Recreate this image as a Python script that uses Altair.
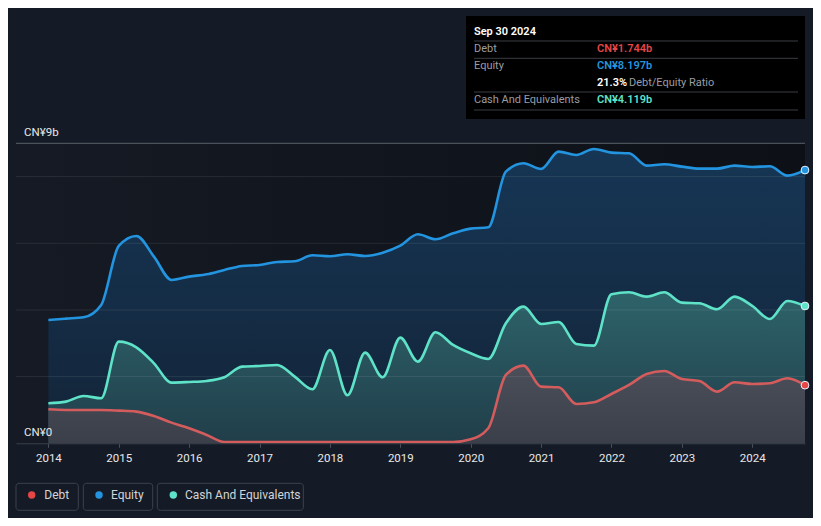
import altair as alt
import pandas as pd

# ---------------- data ----------------
years = [2014.0, 2014.25, 2014.5, 2014.75, 2015.0, 2015.25, 2015.5, 2015.75,
         2016.0, 2016.25, 2016.5, 2016.75, 2017.0, 2017.25, 2017.5, 2017.75,
         2018.0, 2018.25, 2018.5, 2018.75, 2019.0, 2019.25, 2019.5, 2019.75,
         2020.0, 2020.25, 2020.5, 2020.75, 2021.0, 2021.25, 2021.5, 2021.75,
         2022.0, 2022.25, 2022.5, 2022.75, 2023.0, 2023.25, 2023.5, 2023.75,
         2024.0, 2024.25, 2024.5, 2024.75]

equity = [3.70, 3.74, 3.78, 4.15, 5.92, 6.22, 5.60, 4.90,
          5.00, 5.07, 5.20, 5.32, 5.35, 5.44, 5.46, 5.64,
          5.61, 5.67, 5.62, 5.72, 5.93, 6.27, 6.12, 6.30,
          6.44, 6.48, 8.15, 8.40, 8.23, 8.75, 8.65, 8.83,
          8.72, 8.70, 8.33, 8.37, 8.30, 8.24, 8.24, 8.33,
          8.29, 8.31, 8.03, 8.197]

cash = [1.20, 1.25, 1.42, 1.35, 3.05, 2.88, 2.40, 1.82,
        1.84, 1.87, 1.98, 2.30, 2.32, 2.35, 2.00, 1.62,
        2.80, 1.44, 2.72, 1.98, 3.17, 2.45, 3.33, 2.95,
        2.70, 2.53, 3.60, 4.10, 3.58, 3.64, 2.98, 2.93,
        4.47, 4.53, 4.40, 4.53, 4.22, 4.20, 4.02, 4.40,
        4.12, 3.73, 4.27, 4.119]

debt = [1.02, 1.00, 1.00, 1.00, 0.98, 0.95, 0.82, 0.62,
        0.45, 0.25, 0.04, 0.04, 0.04, 0.04, 0.04, 0.04,
        0.04, 0.04, 0.04, 0.04, 0.04, 0.04, 0.04, 0.04,
        0.12, 0.45, 2.05, 2.33, 1.70, 1.68, 1.18, 1.23,
        1.48, 1.75, 2.08, 2.17, 1.93, 1.87, 1.55, 1.83,
        1.78, 1.80, 1.95, 1.744]

series_names = ["Debt", "Equity", "Cash And Equivalents"]
series_colors = ["#e64646", "#2394df", "#5fe3c8"]
line_colors = ["#d45c5d", "#2394df", "#5fe3c8"]
tick_years = [2014, 2015, 2016, 2017, 2018, 2019, 2020, 2021, 2022, 2023, 2024]
grid_values = [2, 4, 6, 8]
y_label_values = [0, 9]
y_label_texts = ["CN¥0", "CN¥9b"]
as_of = "Sep 30 2024"

# ---------------- build ----------------
W, H = 789, 300
FONT = "Roboto"
PAGE_BG = "#151b26"

df = pd.DataFrame({
    "year": years * 3,
    "value": debt + equity + cash,
    "series": ["Debt"] * len(years) + ["Equity"] * len(years) + ["Cash And Equivalents"] * len(years),
})
last = df[df["year"] == years[-1]]

xscale = alt.Scale(domain=[2013.54, 2024.75], nice=False, zero=False)
yscale = alt.Scale(domain=[0, 9], nice=False, zero=True)

xenc = alt.X("year:Q", scale=xscale, title=None,
             axis=alt.Axis(values=tick_years, format="d", grid=False,
                           domainColor="#3b414b", tickColor="#4a505a", tickSize=4,
                           labelColor="#e8e8e8", labelFontSize=11.5, labelFont=FONT,
                           labelPadding=5, labelFlush=False, zindex=1))
yenc = alt.Y("value:Q", scale=yscale, title=None, axis=None)

one = pd.DataFrame({"k": [0]})

def grad(top, bottom, horizontal=False):
    if horizontal:
        return alt.Gradient(gradient="linear", x1=0, y1=0, x2=1, y2=0,
                            stops=[alt.GradientStop(color=top, offset=0),
                                   alt.GradientStop(color=bottom, offset=1)])
    return alt.Gradient(gradient="linear", x1=0, y1=0, x2=0, y2=1,
                        stops=[alt.GradientStop(color=top, offset=0),
                               alt.GradientStop(color=bottom, offset=1)])

bg = alt.Chart(one).mark_rect(color=grad("#151a24", "#0d1016", horizontal=True)).encode(
    x=alt.value(0), x2=alt.value(W), y=alt.value(0), y2=alt.value(H))

base = alt.Chart(df)

area_eq = base.transform_filter(alt.datum.series == "Equity").mark_area(
    interpolate="monotone", color=grad("#163655", "#132438")).encode(x=xenc, y=yenc)
area_cash = base.transform_filter(alt.datum.series == "Cash And Equivalents").mark_area(
    interpolate="monotone", color=grad("#2e636a", "#203e4a")).encode(x=xenc, y=yenc)
area_debt = base.transform_filter(alt.datum.series == "Debt").mark_area(
    interpolate="monotone", color=grad("#4c4f59", "#3a3f4a")).encode(x=xenc, y=yenc)

grid = alt.Chart(pd.DataFrame({"g": grid_values})).mark_rule(
    color="#ffffff", opacity=0.09, strokeWidth=1).encode(
    y=alt.Y("g:Q", scale=yscale, axis=None), x=alt.value(0), x2=alt.value(W))
top_rule = alt.Chart(pd.DataFrame({"g": [9]})).mark_rule(
    color="#5a5f68", strokeWidth=1).encode(
    y=alt.Y("g:Q", scale=yscale, axis=None), x=alt.value(0), x2=alt.value(W))

ylabels = alt.Chart(pd.DataFrame({"v": y_label_values, "t": y_label_texts})).mark_text(
    align="left", baseline="alphabetic", dy=-7, font=FONT, fontSize=11.5, color="#e8e8e8").encode(
    y=alt.Y("v:Q", scale=yscale, axis=None), x=alt.value(8), text="t:N")

color_scale = alt.Scale(domain=series_names, range=line_colors)
lines = base.mark_line(interpolate="monotone", strokeWidth=2.6).encode(
    x=xenc, y=yenc, color=alt.Color("series:N", scale=color_scale, legend=None),
    detail="series:N")

pts = alt.Chart(last).mark_point(filled=True, size=60, stroke="#e8f4ff", strokeWidth=1, opacity=1).encode(
    x=xenc, y=yenc,
    fill=alt.Fill("series:N", scale=alt.Scale(domain=series_names, range=series_colors), legend=None))

# ---------------- info box ----------------
OX, OY = 16, 143.3
def px(x):
    return x - OX
def py(y):
    return y - OY

layers = [bg, area_eq, area_cash, area_debt, grid, top_rule, ylabels, lines, pts]

box = alt.Chart(one).mark_rect(color="#000000").encode(
    x=alt.value(px(466)), x2=alt.value(px(805)), y=alt.value(py(16)), y2=alt.value(py(119)))
layers.append(box)
for yy in [41, 58.3, 92, 110]:
    layers.append(alt.Chart(one).mark_rule(color="#3a3d42", strokeWidth=1).encode(
        x=alt.value(px(474)), x2=alt.value(px(798)), y=alt.value(py(yy))))

ratio = debt[-1] / equity[-1] * 100
texts = [
    (474, 31.7, as_of, "#ffffff", 600),
    (474, 49.3, "Debt", "#9a9da3", 400),
    (597, 49.3, f"CN¥{debt[-1]:.3f}b", series_colors[0], 600),
    (474, 66.0, "Equity", "#9a9da3", 400),
    (597, 66.0, f"CN¥{equity[-1]:.3f}b", series_colors[1], 600),
    (597, 83.0, f"{ratio:.1f}%", "#ffffff", 600),
    (629, 83.0, "Debt/Equity Ratio", "#9a9da3", 400),
    (474, 100.0, "Cash And Equivalents", "#9a9da3", 400),
    (597, 100.0, f"CN¥{cash[-1]:.3f}b", series_colors[2], 600),
]
for (tx, ty, s, c, w) in texts:
    layers.append(alt.Chart(pd.DataFrame({"t": [s]})).mark_text(
        align="left", baseline="middle", font=FONT, fontSize=11, color=c, fontWeight=w).encode(
        x=alt.value(px(tx)), y=alt.value(py(ty)), text="t:N"))

# ---------------- legend ----------------
legend_boxes = [(16, 78.3), (83.3, 152.7), (157.3, 303.3)]
legend_dots = [31.7, 99, 173.3]
legend_text = [44.3, 111, 185]
for i, name in enumerate(series_names):
    x0, x1 = legend_boxes[i]
    layers.append(alt.Chart(one).mark_rect(fill=None, filled=False, stroke="#3c424d", strokeWidth=1,
                                           cornerRadius=3).encode(
        x=alt.value(px(x0)), x2=alt.value(px(x1)), y=alt.value(py(483.3)), y2=alt.value(py(510.3))))
    layers.append(alt.Chart(one).mark_circle(size=55, opacity=1, color=series_colors[i]).encode(
        x=alt.value(px(legend_dots[i])), y=alt.value(py(495))))
    layers.append(alt.Chart(pd.DataFrame({"t": [name]})).mark_text(
        align="left", baseline="middle", font=FONT, fontSize=12, color="#d2d4d8").encode(
        x=alt.value(px(legend_text[i])), y=alt.value(py(495.5)), text="t:N"))

chart = alt.layer(*layers).properties(
    width=W, height=H,
    autosize=alt.AutoSizeParams(type="none"),
    padding={"left": 8, "top": 135.3, "right": 8, "bottom": 75},
    background=PAGE_BG,
).configure_view(stroke=None)

chart.save("out.html", embed_options={"renderer": "svg", "actions": False})
